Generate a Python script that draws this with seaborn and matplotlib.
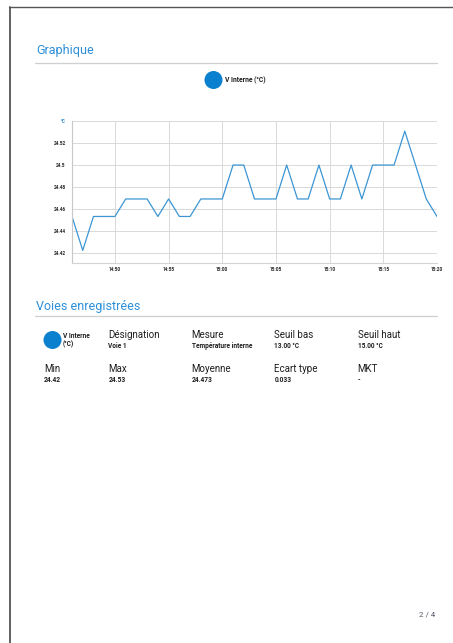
import matplotlib
matplotlib.use("Agg")
import matplotlib.pyplot as plt
import matplotlib.dates as mdates
from matplotlib.patches import Ellipse
from matplotlib.lines import Line2D
import pandas as pd
import seaborn as sns

# ---- data -------------------------------------------------------------
times = ["14:46", "14:47", "14:48", "14:49", "14:50", "14:51", "14:52",
         "14:53", "14:54", "14:55", "14:56", "14:57", "14:58", "14:59",
         "15:00", "15:01", "15:02", "15:03", "15:04", "15:05", "15:06",
         "15:07", "15:08", "15:09", "15:10", "15:11", "15:12", "15:13",
         "15:14", "15:15", "15:16", "15:17", "15:18", "15:19", "15:20"]
temps = [24.453, 24.422, 24.453, 24.453, 24.453, 24.469, 24.469,
         24.469, 24.453, 24.469, 24.453, 24.453, 24.469, 24.469,
         24.469, 24.500, 24.500, 24.469, 24.469, 24.469, 24.500,
         24.469, 24.469, 24.500, 24.469, 24.469, 24.500, 24.469,
         24.500, 24.500, 24.500, 24.531, 24.500, 24.469, 24.453]
y_ticks = [24.42, 24.44, 24.46, 24.48, 24.50, 24.52]
y_tick_labels = ["24.42", "24.44", "24.46", "24.48", "24.5", "24.52"]
y_unit = "°C"
series_name = "V Interne (°C)"

table_row1_heads = ["Désignation", "Mesure", "Seuil bas", "Seuil haut"]
table_row1_vals = ["Voie 1", "Température interne", "13.00 °C", "15.00 °C"]
table_row2_heads = ["Min", "Max", "Moyenne", "Ecart type", "MKT"]
table_row2_vals = ["24.42", "24.53", "24.473", "0.033", "-"]
page_label = "2 / 4"

# ---- page setup -------------------------------------------------------
W, H = 453, 643
sns.set_theme(style="white")
plt.rcParams["font.family"] = ["Roboto", "DejaVu Sans"]

fig = plt.figure(figsize=(W / 100, H / 100), dpi=100)
fig.patch.set_facecolor("white")

BLUE_HEAD = "#2d8fd8"
BLUE_DOT = "#0a80cf"
BLUE_LINE = "#3c96d3"
GRID = "#d9d9d9"
INK = "#1e1e1e"


def fx(x):
    return x / W


def fy(y):
    return 1 - y / H


def text(x, y, s, **kw):
    fig.text(fx(x), fy(y), s, **kw)


def hline(x0, x1, y, color, lw):
    fig.add_artist(Line2D([fx(x0), fx(x1)], [fy(y), fy(y)], color=color,
                          lw=lw, transform=fig.transFigure))


def dot(cx, cy, r):
    fig.add_artist(Ellipse((fx(cx), fy(cy)), 2 * r / W, 2 * r / H,
                           color=BLUE_DOT, transform=fig.transFigure, lw=0))


# page frame
fig.add_artist(Line2D([fx(9.5), fx(9.5)], [fy(7), 0], color="#555555",
                      lw=1.3, transform=fig.transFigure))
hline(9, W, 7.3, "#555555", 1.0)

# ---- "Graphique" section ---------------------------------------------
text(36.5, 54, "Graphique", color=BLUE_HEAD, fontsize=9, va="baseline")
hline(35, 437, 62.5, "#cfcfcf", 0.9)

dot(213.5, 80, 9)
text(225, 80.5, series_name, fontsize=4.9, color=INK, va="center",
     fontweight="bold")

# chart area
left, right, top, bottom = 72, 437, 121.3, 263.5
ax = fig.add_axes([fx(left), fy(bottom), fx(right - left), (bottom - top) / H])

df = pd.DataFrame({"time": pd.to_datetime(["2024-01-01 " + t for t in times]),
                   "temp": temps})
sns.lineplot(data=df, x="time", y="temp", ax=ax, color=BLUE_LINE, lw=0.9)

ax.set_xlim(df["time"].min(), df["time"].max())
ax.set_ylim(24.41, 24.54)
ax.set_xlabel("")
ax.set_ylabel("")

ax.set_yticks(y_ticks + [24.54])
ax.set_yticklabels(y_tick_labels + [y_unit])
ax.xaxis.set_major_locator(mdates.MinuteLocator(byminute=range(0, 60, 5)))
ax.xaxis.set_major_formatter(mdates.DateFormatter("%H:%M"))

ax.tick_params(axis="both", length=0, labelsize=3.4, labelcolor="#2a2a2a")
ax.tick_params(axis="y", pad=4.5)
ax.tick_params(axis="x", pad=2.5)
for lbl in ax.get_yticklabels() + ax.get_xticklabels():
    lbl.set_fontweight("bold")
ax.get_yticklabels()[-1].set_color(BLUE_HEAD)
ax.grid(True, color=GRID, lw=0.7)
for side in ["top", "right"]:
    ax.spines[side].set_visible(False)
ax.spines["left"].set_color("#c8c8c8")
ax.spines["left"].set_linewidth(0.8)
ax.spines["bottom"].set_color("#d4d4d4")
ax.spines["bottom"].set_linewidth(0.8)
ax.set_facecolor("white")

# ---- "Voies enregistrées" section ------------------------------------
text(36.5, 310, "Voies enregistrées", color=BLUE_HEAD, fontsize=9,
     va="baseline")
hline(35, 437, 316, "#cfcfcf", 0.9)

dot(52.5, 340, 9)
text(62.5, 336.5, "V Interne", fontsize=4.7, color=INK, va="center",
     fontweight="bold")
text(62.5, 344, "(°C)", fontsize=4.7, color=INK, va="center",
     fontweight="bold")

col_x = [44, 108.3, 191.7, 274.3, 357.7]
for x, h, v in zip(col_x[1:], table_row1_heads, table_row1_vals):
    text(x, 337.5, h, fontsize=7, color=INK, va="baseline")
    text(x, 348, v, fontsize=4.7, color=INK, va="baseline",
         fontweight="bold")
for x, h, v in zip(col_x, table_row2_heads, table_row2_vals):
    text(x, 372, h, fontsize=7, color=INK, va="baseline")
    text(x, 382.5, v, fontsize=4.8, color=INK, va="baseline",
         fontweight="bold")

text(426.7, 614.5, page_label, fontsize=5.8, color="#555566", ha="center",
     va="center")

fig.savefig("out.png", dpi=100, facecolor="white")
